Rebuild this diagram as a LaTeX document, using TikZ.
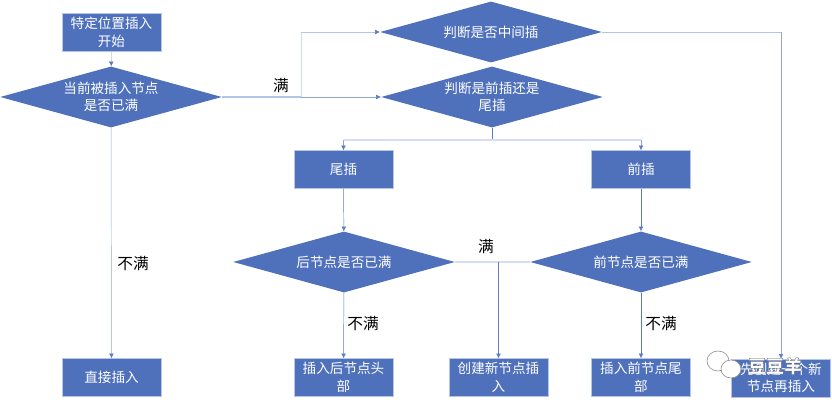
\documentclass[tikz,border=0pt]{standalone}
\usepackage{fontspec}
\setmainfont{Noto Sans CJK SC}
\usetikzlibrary{shapes.geometric,arrows.meta}
\definecolor{fillblue}{HTML}{4F71BC}
\definecolor{lineblue}{HTML}{5B7CC4}
\definecolor{midblue}{HTML}{8FA6DA}
\definecolor{paleblue}{HTML}{B4C5E7}
\definecolor{mistblue}{HTML}{D5DEF1}
\tikzset{
  procbox/.style={draw=paleblue,fill=fillblue,text=white,minimum width=2.97cm,minimum height=1.14cm,inner sep=1pt,text width=2.8cm,align=center,font=\fontsize{11.6}{15}\selectfont},
  choice/.style={draw=none,fill=fillblue,text=white,diamond,aspect=3.65,minimum width=6.65cm,minimum height=1.83cm,inner sep=0pt,align=center,font=\fontsize{11.6}{15}\selectfont},
  flow/.style={draw=lineblue,-{Latex[length=4pt,width=4pt,color=lineblue]}},
  faint/.style={draw=paleblue,line width=0.7pt},
  misty/.style={draw=mistblue,line width=1.1pt},
  tag/.style={font=\fontsize{13.4}{15}\selectfont,text=black},
  bubble/.style={draw=black!45,fill=white,line width=0.5pt}
}
\begin{document}
\begin{tikzpicture}[x=0.03cm,y=-0.03cm]
    \useasboundingbox (0,0) rectangle (832,402);

    \node[procbox] (start) at (111.5,32.5) {特定位置插入\\开始};
    \node[choice] (full) at (111,97) {当前被插入节点\\是否已满};
    \node[choice] (middle) at (491,32) {判断是否中间插};
    \node[choice] (frontback) at (492,97) {判断是前插还是\\尾插};

    \node[procbox] (tail) at (343.5,169.5) {尾插};
    \node[procbox] (head) at (641,169.5) {前插};
    \node[choice] (nextfull) at (344,262) {后节点是否已满};
    \node[choice] (prevfull) at (641,262) {前节点是否已满};

    \node[procbox] (direct) at (111.5,377.5) {直接插入};
    \node[procbox] (nexthead) at (343.5,377.5) {插入后节点头\\部};
    \node[procbox] (newnode) at (498.5,377.5) {创建新节点插\\入};
    \node[procbox] (prevtail) at (641,377.5) {插入前节点尾\\部};
    \node[procbox] (lastbox) at (781,378) {先创建一个新\\节点再插入};

    \coordinate (fork) at (301,97);
    \coordinate (turn) at (301,32);
    \coordinate (corner) at (781,32);
    \coordinate (split) at (492,140);
    \coordinate (meet) at (498.5,262);

    \draw[flow,draw=paleblue] (start) -- (full);
    \draw[flow,draw=midblue] (full) -- (direct);
    \node[tag] (directtag) at (133,264) {不满};

    \draw[misty,draw=paleblue] (full.east) -- (fork);
    \draw[faint,draw=mistblue] (fork) -- (turn);
    \draw[flow,draw=paleblue] (turn) -- (middle.west);
    \draw[flow,draw=midblue] (fork) -- (frontback.west);
    \node[tag] (fulltag) at (281,86) {满};

    \draw[draw=lineblue] (frontback) -- (split);
    \draw[misty] (tail.north |- split) -- (head.north |- split);
    \draw[flow,draw=midblue] (tail.north |- split) -- (tail);
    \draw[flow,draw=midblue] (head.north |- split) -- (head);
    \draw[flow] (tail) -- (nextfull);
    \draw[flow] (head) -- (prevfull);

    \draw[flow] (nextfull) -- (nexthead);
    \draw[flow] (prevfull) -- (prevtail);
    \node[tag] (nexttag) at (363,324) {不满};
    \node[tag] (prevtag) at (661,324) {不满};
    \draw[misty] (nextfull.east) -- (prevfull.west);
    \draw[flow] (meet) -- (newnode);
    \node[tag] (meettag) at (486,247) {满};

    \draw[faint] (middle.east) -- (corner);
    \draw[flow,draw=midblue] (corner) -- (lastbox.north -| corner);

    % watermark
    \draw[bubble] (718,361) ellipse (11 and 10);
    \draw[bubble] (731,369) ellipse (10 and 9);
    \node[font=\fontsize{15.4}{16}\selectfont\bfseries,text=white] (mark) at (775,366) {\special{pdf:code q 2 Tr 0.2 w 0.35 0.35 0.35 RG 1 1 1 rg}豆豆羊\special{pdf:code Q}};
\end{tikzpicture}
\end{document}
